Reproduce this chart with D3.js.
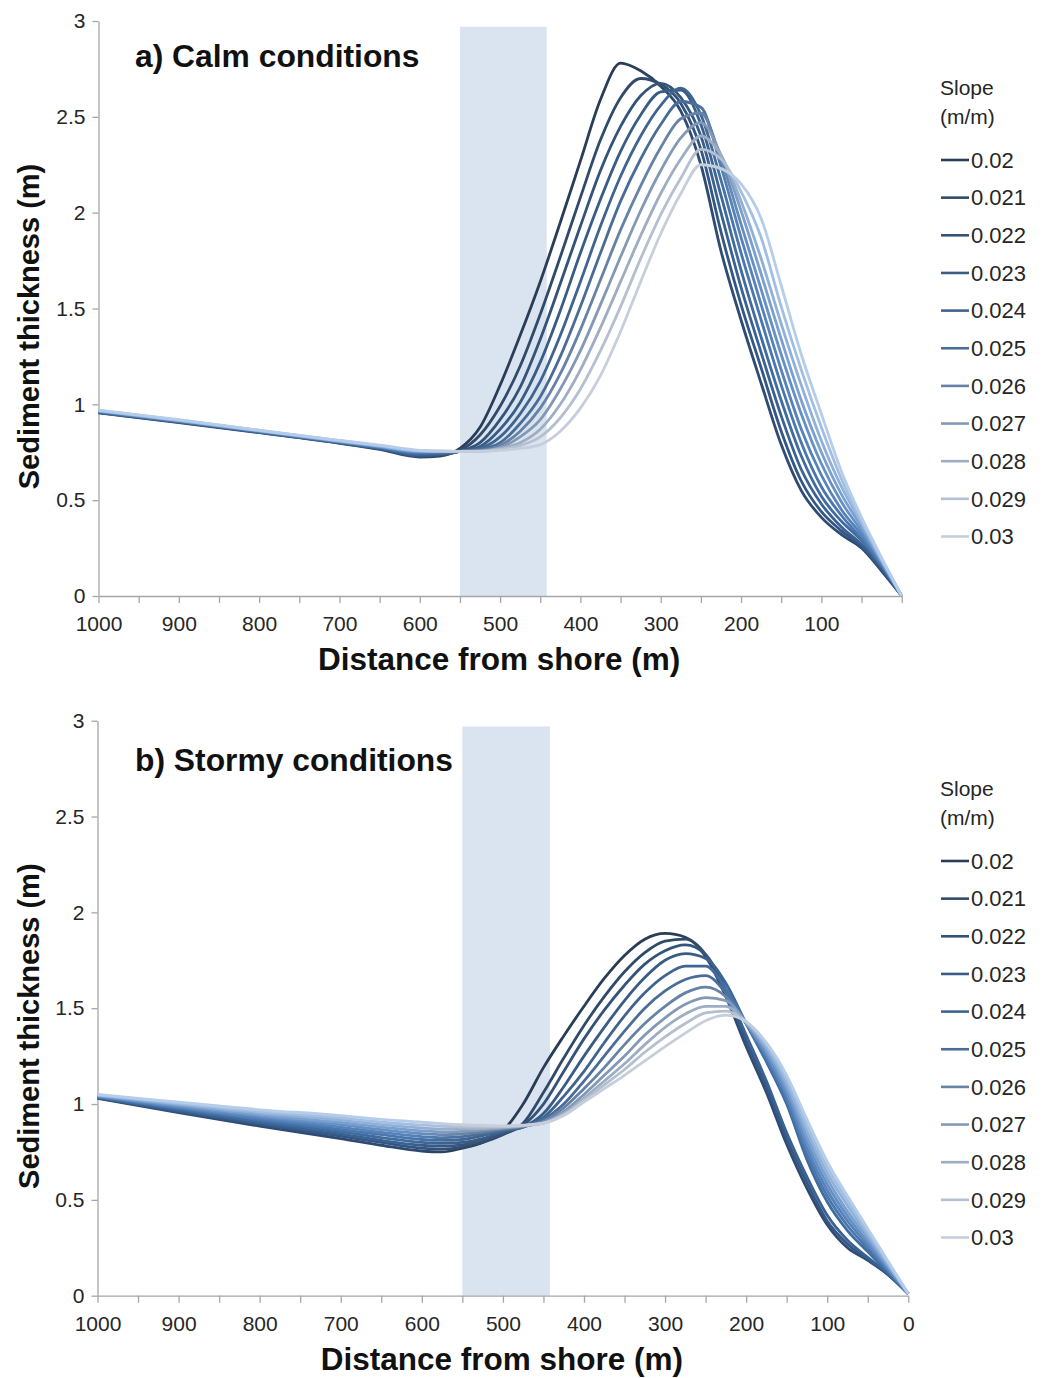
<!DOCTYPE html>
<html>
<head>
<meta charset="utf-8">
<script src="https://cdn.jsdelivr.net/npm/d3@7"></script>
<style>
  body { margin: 0; background: #fff; }
  svg { display: block; }
  text { font-family: "Liberation Sans", Arial, sans-serif; }
</style>
</head>
<body>
<svg id="chart" width="1044" height="1378"></svg>
<script>
// Distance from shore (m) at which each profile is sampled
const distances = [1000, 900, 800, 700, 650, 600, 575, 550, 525, 500,
                   475, 450, 425, 400, 375, 350, 325, 300, 275, 250,
                   225, 200, 175, 150, 125, 100, 75, 50, 25, 0];

// Bed slopes (m/m), one profile per slope
const slopes = ["0.02", "0.021", "0.022", "0.023", "0.024", "0.025",
                "0.026", "0.027", "0.028", "0.029", "0.03"];

// Shaded zone (distance from shore, m) and its height (m)
const bandRange = [550, 442];
const bandHeight = 2.97;

const xTicks = [0, 50, 100, 150, 200, 250, 300, 350, 400, 450, 500,
                550, 600, 650, 700, 750, 800, 850, 900, 950, 1000];
const yTicks = [0, 0.5, 1, 1.5, 2, 2.5, 3];

// a) Calm conditions: sediment thickness (m)
const calm020 = [0.955, 0.905, 0.852, 0.797, 0.765, 0.725, 0.73, 0.77, 0.88, 1.10,
                 1.36, 1.64, 1.95, 2.27, 2.59, 2.78, 2.74, 2.66, 2.53, 2.25,
                 1.80, 1.44, 1.11, 0.79, 0.55, 0.41, 0.32, 0.25, 0.13, 0];
const calm021 = [0.957, 0.907, 0.854, 0.799, 0.768, 0.73, 0.735, 0.76, 0.84, 0.99,
                 1.20, 1.47, 1.77, 2.08, 2.38, 2.60, 2.70, 2.67, 2.57, 2.33,
                 1.90, 1.52, 1.19, 0.86, 0.60, 0.44, 0.34, 0.26, 0.14, 0];
const calm022 = [0.958, 0.908, 0.855, 0.80, 0.77, 0.735, 0.738, 0.755, 0.80, 0.92,
                 1.09, 1.34, 1.63, 1.93, 2.22, 2.45, 2.61, 2.675, 2.60, 2.40,
                 2.00, 1.61, 1.27, 0.94, 0.66, 0.48, 0.36, 0.27, 0.15, 0];
const calm023 = [0.96, 0.91, 0.857, 0.802, 0.773, 0.74, 0.742, 0.755, 0.78, 0.87,
                 1.01, 1.22, 1.49, 1.79, 2.07, 2.32, 2.51, 2.63, 2.64, 2.46,
                 2.09, 1.70, 1.35, 1.02, 0.73, 0.52, 0.39, 0.29, 0.16, 0];
const calm024 = [0.962, 0.912, 0.858, 0.804, 0.775, 0.745, 0.746, 0.755, 0.77, 0.83,
                 0.95, 1.12, 1.36, 1.64, 1.93, 2.19, 2.40, 2.56, 2.65, 2.51,
                 2.17, 1.79, 1.44, 1.10, 0.80, 0.57, 0.42, 0.30, 0.16, 0];
const calm025 = [0.963, 0.913, 0.86, 0.805, 0.777, 0.75, 0.75, 0.755, 0.765, 0.80,
                 0.90, 1.04, 1.25, 1.51, 1.79, 2.06, 2.28, 2.46, 2.58, 2.55,
                 2.24, 1.87, 1.52, 1.18, 0.87, 0.63, 0.45, 0.32, 0.17, 0];
const calm026 = [0.965, 0.915, 0.861, 0.806, 0.779, 0.752, 0.752, 0.755, 0.76, 0.785,
                 0.86, 0.98, 1.16, 1.39, 1.65, 1.91, 2.14, 2.34, 2.49, 2.52,
                 2.28, 1.94, 1.60, 1.26, 0.95, 0.69, 0.49, 0.34, 0.18, 0];
const calm027 = [0.966, 0.916, 0.862, 0.808, 0.781, 0.755, 0.754, 0.755, 0.758, 0.775,
                 0.83, 0.92, 1.08, 1.28, 1.52, 1.77, 2.01, 2.22, 2.39, 2.47,
                 2.30, 2.01, 1.68, 1.34, 1.02, 0.75, 0.53, 0.36, 0.18, 0];
const calm028 = [0.967, 0.917, 0.863, 0.809, 0.783, 0.757, 0.755, 0.755, 0.756, 0.77,
                 0.80, 0.87, 1.00, 1.18, 1.40, 1.64, 1.88, 2.10, 2.28, 2.40,
                 2.30, 2.06, 1.76, 1.42, 1.10, 0.81, 0.57, 0.38, 0.19, 0];
const calm029 = [0.968, 0.918, 0.864, 0.81, 0.785, 0.758, 0.756, 0.755, 0.755, 0.765,
                 0.785, 0.83, 0.93, 1.08, 1.28, 1.51, 1.76, 1.99, 2.18, 2.33,
                 2.28, 2.11, 1.87, 1.51, 1.18, 0.88, 0.61, 0.39, 0.19, 0];
const calm030 = [0.97, 0.92, 0.865, 0.812, 0.787, 0.76, 0.757, 0.755, 0.755, 0.76,
                 0.77, 0.79, 0.86, 0.98, 1.15, 1.38, 1.64, 1.89, 2.10, 2.25,
                 2.23, 2.15, 1.97, 1.62, 1.26, 0.95, 0.65, 0.41, 0.20, 0];

// b) Stormy conditions: sediment thickness (m)
const storm020 = [1.03, 0.955, 0.885, 0.82, 0.785, 0.755, 0.75, 0.77, 0.80, 0.86,
                  1.00, 1.19, 1.355, 1.51, 1.655, 1.775, 1.86, 1.89, 1.87, 1.77,
                  1.56, 1.30, 1.06, 0.79, 0.56, 0.37, 0.25, 0.185, 0.11, 0.01];
const storm021 = [1.032, 0.96, 0.894, 0.832, 0.80, 0.77, 0.765, 0.775, 0.80, 0.84,
                  0.90, 1.06, 1.24, 1.41, 1.56, 1.69, 1.79, 1.85, 1.86, 1.78,
                  1.58, 1.33, 1.09, 0.82, 0.59, 0.39, 0.27, 0.19, 0.11, 0.01];
const storm022 = [1.034, 0.966, 0.902, 0.844, 0.81, 0.785, 0.78, 0.787, 0.81, 0.845,
                  0.89, 1.00, 1.17, 1.34, 1.49, 1.62, 1.73, 1.80, 1.83, 1.78,
                  1.60, 1.36, 1.12, 0.85, 0.62, 0.42, 0.29, 0.20, 0.115, 0.01];
const storm023 = [1.036, 0.972, 0.91, 0.856, 0.825, 0.80, 0.795, 0.80, 0.82, 0.855,
                  0.88, 0.95, 1.09, 1.25, 1.40, 1.54, 1.66, 1.75, 1.785, 1.76,
                  1.63, 1.42, 1.22, 1.00, 0.71, 0.49, 0.34, 0.23, 0.12, 0.01];
const storm024 = [1.038, 0.977, 0.919, 0.868, 0.84, 0.815, 0.81, 0.815, 0.835, 0.86,
                  0.88, 0.93, 1.04, 1.17, 1.32, 1.46, 1.58, 1.67, 1.72, 1.72,
                  1.60, 1.42, 1.235, 1.02, 0.74, 0.52, 0.365, 0.247, 0.128, 0.01];
const storm025 = [1.04, 0.983, 0.927, 0.88, 0.852, 0.83, 0.824, 0.83, 0.845, 0.865,
                  0.88, 0.92, 1.00, 1.12, 1.25, 1.38, 1.50, 1.59, 1.65, 1.67,
                  1.58, 1.42, 1.25, 1.04, 0.77, 0.55, 0.39, 0.264, 0.137, 0.01];
const storm026 = [1.042, 0.988, 0.936, 0.892, 0.866, 0.845, 0.84, 0.845, 0.855, 0.87,
                  0.885, 0.91, 0.98, 1.08, 1.19, 1.31, 1.42, 1.51, 1.58, 1.61,
                  1.56, 1.42, 1.265, 1.06, 0.80, 0.58, 0.415, 0.28, 0.145, 0.01];
const storm027 = [1.044, 0.994, 0.944, 0.904, 0.88, 0.86, 0.854, 0.857, 0.865, 0.875,
                  0.885, 0.905, 0.96, 1.05, 1.15, 1.25, 1.36, 1.45, 1.52, 1.555,
                  1.54, 1.425, 1.28, 1.085, 0.83, 0.61, 0.44, 0.30, 0.155, 0.01];
const storm028 = [1.046, 0.999, 0.953, 0.916, 0.893, 0.875, 0.869, 0.87, 0.872, 0.878,
                  0.887, 0.90, 0.95, 1.03, 1.12, 1.21, 1.31, 1.40, 1.47, 1.51,
                  1.51, 1.425, 1.295, 1.105, 0.86, 0.64, 0.47, 0.315, 0.163, 0.01];
const storm029 = [1.048, 1.005, 0.961, 0.928, 0.906, 0.89, 0.884, 0.881, 0.88, 0.882,
                  0.888, 0.90, 0.945, 1.02, 1.10, 1.18, 1.27, 1.35, 1.42, 1.475,
                  1.485, 1.43, 1.31, 1.13, 0.89, 0.67, 0.495, 0.333, 0.172, 0.01];
const storm030 = [1.05, 1.01, 0.97, 0.94, 0.92, 0.905, 0.898, 0.892, 0.888, 0.886,
                  0.89, 0.90, 0.94, 1.01, 1.08, 1.15, 1.225, 1.30, 1.37, 1.435,
                  1.464, 1.43, 1.32, 1.15, 0.92, 0.70, 0.52, 0.35, 0.18, 0.01];

const calmSeries = [calm020, calm021, calm022, calm023, calm024, calm025,
                    calm026, calm027, calm028, calm029, calm030];
const stormSeries = [storm020, storm021, storm022, storm023, storm024, storm025,
                     storm026, storm027, storm028, storm029, storm030];

// Line colours: slate tone around the crest, bluer tone on the flanks
const crestColors = ["#2a3d56", "#304a69", "#345378", "#395c85", "#3f6490", "#4a6d98",
                     "#6682a6", "#8398b4", "#9eadc3", "#b4bfcf", "#c6cedb"];
const flankColors = ["#2e4b73", "#335683", "#396192", "#3f6b9f", "#4876ad", "#5582ba",
                     "#6690c4", "#7aa0cf", "#8eb0d9", "#a2bfe2", "#b5cdea"];

const panels = [
  { id: "calm", title: "a) Calm conditions", series: calmSeries, showZero: false,
    top: 21, bottom: 596, left: 98.5, right: 901.7, titleY: 67, legendY: 88 },
  { id: "storm", title: "b) Stormy conditions", series: stormSeries, showZero: true,
    top: 720.7, bottom: 1295.7, left: 97.5, right: 908.3, titleY: 771, legendY: 789 }
];

const svg = d3.select("#chart");
const defs = svg.append("defs");
svg.append("rect").attr("width", 1044).attr("height", 1378).attr("fill", "#fff");

panels.forEach(p => {
  const g = svg.append("g");
  const x = d3.scaleLinear().domain([1000, 0]).range([p.left, p.right]);
  const y = d3.scaleLinear().domain([0, 3]).range([p.bottom, p.top]);

  // shaded zone
  g.append("rect")
    .attr("x", x(bandRange[0]))
    .attr("width", x(bandRange[1]) - x(bandRange[0]))
    .attr("y", y(bandHeight))
    .attr("height", y(0) - y(bandHeight))
    .attr("fill", "#dae3f0");

  // axes
  const xAxis = d3.axisBottom(x)
    .tickValues(xTicks)
    .tickSize(7)
    .tickSizeOuter(0)
    .tickPadding(13)
    .tickFormat(d => (d % 100 === 0 && (d > 0 || p.showZero)) ? d : "");
  const gx = g.append("g").attr("transform", `translate(0,${p.bottom})`).call(xAxis);

  const yAxis = d3.axisLeft(y)
    .tickValues(yTicks)
    .tickSize(6)
    .tickSizeOuter(0)
    .tickPadding(7)
    .tickFormat(d => String(d));
  const gy = g.append("g").attr("transform", `translate(${p.left},0)`).call(yAxis);

  [gx, gy].forEach(a => {
    a.select(".domain").attr("stroke", "#a6a6a6").attr("stroke-width", 1.3);
    a.selectAll(".tick line").attr("stroke", "#a6a6a6").attr("stroke-width", 1.3);
    a.selectAll(".tick text").attr("fill", "#262626")
      .style("font-size", "21px").style("font-family", "'Liberation Sans', Arial, sans-serif");
  });

  // profiles
  const line = d3.line()
    .x((v, i) => x(distances[i]))
    .y(v => y(v))
    .curve(d3.curveMonotoneX);

  p.series.forEach((vals, k) => {
    const peakD = distances[d3.maxIndex(vals)];
    const off = d => Math.max(0, Math.min(1, (1000 - d) / 1000));
    const grad = defs.append("linearGradient")
      .attr("id", `grad-${p.id}-${k}`)
      .attr("gradientUnits", "userSpaceOnUse")
      .attr("x1", x(1000)).attr("x2", x(0))
      .attr("y1", 0).attr("y2", 0);
    [[0, flankColors[k]], [off(620), flankColors[k]], [off(540), crestColors[k]],
     [off(peakD - 15), crestColors[k]], [off(peakD - 65), flankColors[k]], [1, flankColors[k]]]
      .forEach(([o, c]) => grad.append("stop").attr("offset", o).attr("stop-color", c));

    g.append("path")
      .datum(vals)
      .attr("d", line)
      .attr("fill", "none")
      .attr("stroke", `url(#grad-${p.id}-${k})`)
      .attr("stroke-width", 2.8)
      .attr("stroke-linejoin", "round");
  });

  // panel title
  g.append("text")
    .attr("x", 135).attr("y", p.titleY)
    .attr("fill", "#111")
    .style("font-size", "31.8px").style("font-weight", "bold")
    .text(p.title);

  // axis titles
  g.append("text")
    .attr("x", (p.left + p.right) / 2 - 1)
    .attr("y", p.bottom + 74)
    .attr("text-anchor", "middle")
    .attr("fill", "#111")
    .style("font-size", "31.5px").style("font-weight", "bold")
    .text("Distance from shore (m)");

  g.append("text")
    .attr("transform", `translate(39,${(p.top + p.bottom) / 2 + 18}) rotate(-90)`)
    .attr("text-anchor", "middle")
    .attr("fill", "#111")
    .style("font-size", "29px").style("font-weight", "bold")
    .text("Sediment thickness (m)");

  // legend
  const lg = g.append("g").attr("transform", `translate(940,${p.legendY})`);
  lg.append("text").attr("x", 0).attr("y", 0).attr("dy", "0.35em")
    .attr("fill", "#262626").style("font-size", "21px").text("Slope");
  lg.append("text").attr("x", 0).attr("y", 29).attr("dy", "0.35em")
    .attr("fill", "#262626").style("font-size", "21px").text("(m/m)");
  slopes.forEach((s, k) => {
    const yy = 72 + k * 37.65;
    lg.append("line").attr("x1", 1).attr("x2", 29).attr("y1", yy).attr("y2", yy)
      .attr("stroke", crestColors[k]).attr("stroke-width", 2.6);
    lg.append("text").attr("x", 31).attr("y", yy).attr("dy", "0.35em")
      .attr("fill", "#262626").style("font-size", "22px").text(s);
  });
});
</script>
</body>
</html>
